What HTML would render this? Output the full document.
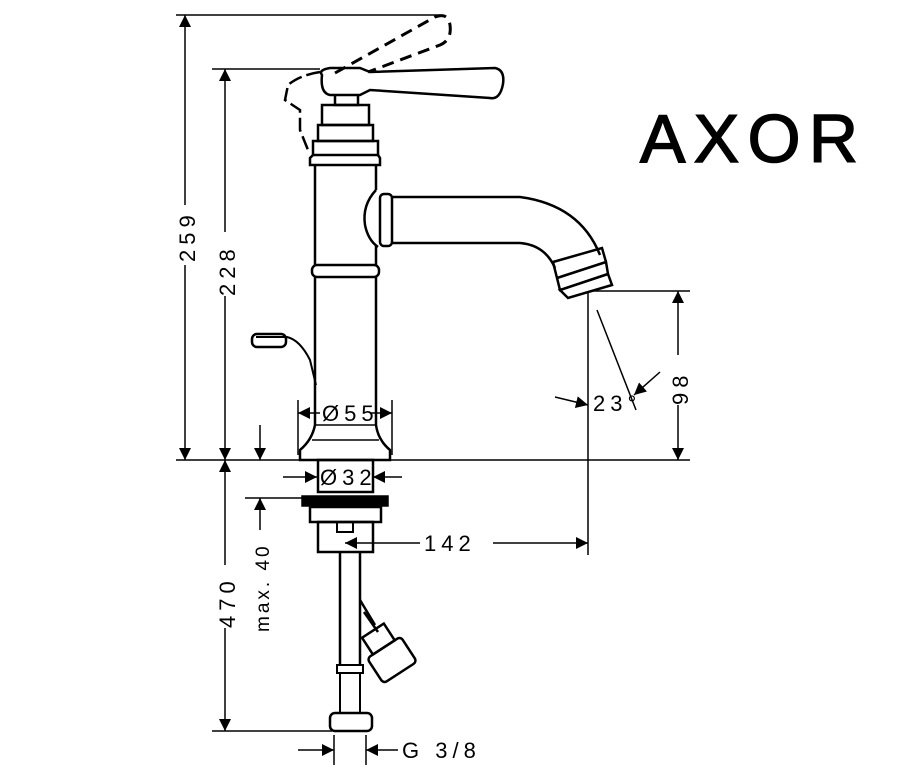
<!DOCTYPE html>
<html><head><style>body{margin:0;background:#fff}svg{display:block}text{font-family:"Liberation Sans",sans-serif;fill:#000}</style></head><body>
<svg width="916" height="778" viewBox="0 0 916 778" xmlns="http://www.w3.org/2000/svg">
<defs>
<marker id="a" viewBox="0 0 10 10" refX="10" refY="5" markerWidth="18" markerHeight="12" markerUnits="userSpaceOnUse" orient="auto-start-reverse"><path d="M0,0L10,5L0,10z"/></marker>
</defs>
<g stroke="#000" stroke-width="1.5" fill="none">
<line x1="176" y1="15" x2="440" y2="15"/>
<line x1="212" y1="69" x2="320" y2="69"/>
<line x1="176" y1="460" x2="690" y2="460"/>
<line x1="212" y1="731" x2="332" y2="731"/>
<line x1="245" y1="498" x2="302" y2="498"/>
<line x1="590" y1="291" x2="690" y2="291"/>
<line x1="588" y1="291" x2="588" y2="555"/>
<line x1="298" y1="400" x2="298" y2="455"/>
<line x1="392" y1="400" x2="392" y2="455"/>
<line x1="334" y1="735" x2="334" y2="765"/>
<line x1="366" y1="735" x2="366" y2="765"/>
<line x1="185" y1="15" x2="185" y2="205" marker-start="url(#a)"/>
<line x1="185" y1="265" x2="185" y2="460" marker-end="url(#a)"/>
<line x1="225" y1="69" x2="225" y2="232" marker-start="url(#a)"/>
<line x1="225" y1="296" x2="225" y2="460" marker-end="url(#a)"/>
<line x1="225" y1="460" x2="225" y2="565" marker-start="url(#a)"/>
<line x1="225" y1="628" x2="225" y2="731" marker-end="url(#a)"/>
<line x1="260" y1="498" x2="260" y2="530" marker-start="url(#a)"/>
<line x1="260" y1="425" x2="260" y2="460" marker-end="url(#a)"/>
<line x1="678" y1="291" x2="678" y2="355" marker-start="url(#a)"/>
<line x1="678" y1="405" x2="678" y2="460" marker-end="url(#a)"/>
<line x1="320" y1="413" x2="298" y2="413" marker-end="url(#a)"/>
<line x1="370" y1="413" x2="392" y2="413" marker-end="url(#a)"/>
<line x1="283" y1="477" x2="317" y2="477" marker-end="url(#a)"/>
<line x1="402" y1="477" x2="373" y2="477" marker-end="url(#a)"/>
<line x1="420" y1="543" x2="345" y2="543" marker-end="url(#a)"/>
<line x1="493" y1="543" x2="588" y2="543" marker-end="url(#a)"/>
<line x1="298" y1="750" x2="334" y2="750" marker-end="url(#a)"/>
<line x1="398" y1="750" x2="366" y2="750" marker-end="url(#a)"/>
<line x1="555" y1="397" x2="588" y2="405" marker-end="url(#a)"/>
<line x1="660" y1="372" x2="634" y2="395" marker-end="url(#a)"/>
<line x1="597" y1="310" x2="636" y2="410"/>
<path d="M335,73 L435,17 Q448,12 450,25 Q452,40 440,45 L368,72" stroke-width="3" stroke-dasharray="12,7"/>
<path d="M320,72 Q300,75 288,85 L285,100 L300,110 L300,130 L308,150" stroke-width="2.5" stroke-dasharray="14,5"/>
<path d="M322,75 Q318,70 330,68 L360,68 Q365,70 370,72 L495,68 Q505,70 503,84 Q500,100 490,98 L370,90 L360,95 L330,95 Q320,93 322,75Z" stroke-width="2.5"/>
<path d="M335,95 L335,105 L358,105 L358,95" stroke-width="2.5"/>
<rect x="322" y="105" width="47" height="20" stroke-width="2.5"/>
<rect x="318" y="125" width="55" height="16" stroke-width="2.5"/>
<rect x="313" y="141" width="65" height="14" stroke-width="2.5"/>
<path d="M313,155 L310,158 L310,165 L380,165 L380,158 L378,155" stroke-width="2.5"/>
<path d="M315,165 L315,265 M376,165 L376,190 M376,245 L376,265" stroke-width="2.5"/>
<rect x="312" y="265" width="67" height="12" rx="5" stroke-width="2.5"/>
<path d="M315,277 L315,425 Q312,440 300,450 L300,460 L390,460 L390,450 Q378,440 376,425 L376,277" stroke-width="2.5"/>
<path d="M315,425 L376,425 M312,440 L379,440" stroke-width="1.5"/>
<path d="M376,190 Q362,205 365,225 Q368,240 378,247" stroke-width="2.5"/>
<rect x="380" y="194" width="12" height="52" rx="4" stroke-width="2.5"/>
<path d="M392,197 L520,197 Q580,205 600,255 M392,243 L520,243 Q545,245 555,268" stroke-width="2.5"/>
<path d="M553,262 L602,248 L606,262 L557,278Z M557,278 L606,262 L608,274 L560,290Z" stroke-width="2.5"/>
<path d="M560,290 L608,274 L612,285 L568,298Z" stroke-width="2.5"/>
<path d="M256,337 L287,337 Q300,340 310,360 L316,385" stroke-width="2"/>
<rect x="252" y="334" width="34" height="13" rx="5" stroke-width="2.5"/>
<rect x="318" y="460" width="55" height="32" stroke-width="2.5"/>
<rect x="302" y="496" width="86" height="10" fill="#000"/>
<rect x="310" y="507" width="71" height="15" stroke-width="2.5"/>
<rect x="318" y="522" width="55" height="30" stroke-width="2.5"/>
<rect x="337" y="522" width="16" height="10" stroke-width="2"/>
<path d="M340,552 L340,665 M360,552 L360,665" stroke-width="2.5"/>
<rect x="337" y="665" width="26" height="8" stroke-width="2"/>
<rect x="340" y="673" width="20" height="40" stroke-width="2"/>
<rect x="330" y="713" width="42" height="18" rx="5" stroke-width="2.5"/>
<path d="M360,600 L375,625 M364,612 L378,632" stroke-width="2.5"/>
<g transform="translate(392,660) rotate(-33)">
<rect x="-13" y="-35" width="26" height="20" stroke-width="2.5"/>
<rect x="-20" y="-15" width="40" height="30" rx="4" stroke-width="2.5"/>
</g>
</g>
<g font-size="22" letter-spacing="5">
<text x="0" y="0" transform="translate(195,262) rotate(-90)">259</text>
<text x="0" y="0" transform="translate(235,296) rotate(-90)">228</text>
<text x="0" y="0" transform="translate(235,628) rotate(-90)">470</text>
<text x="0" y="0" transform="translate(269,632) rotate(-90)" font-size="19" letter-spacing="3">max. 40</text>
<text x="0" y="0" transform="translate(688,405) rotate(-90)">98</text>
<text x="322" y="421">Ø55</text>
<text x="320" y="485">Ø32</text>
<text x="424" y="551">142</text>
<text x="593" y="411">23°</text>
<text x="402" y="758">G 3/8</text>
</g>
<text x="640" y="162" font-size="68" textLength="218" lengthAdjust="spacing" stroke="#000" stroke-width="1.5">AXOR</text>
</svg>
</body></html>
